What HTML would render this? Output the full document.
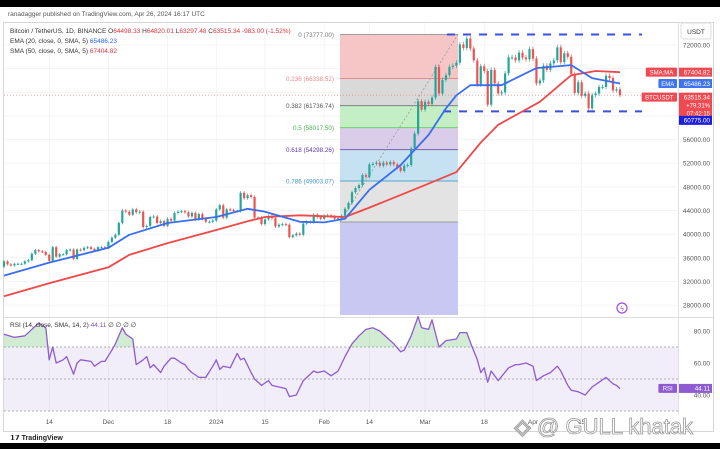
<!DOCTYPE html>
<html><head><meta charset="utf-8"><style>
html,body{margin:0;padding:0;background:#000;}
svg{display:block;font-family:"Liberation Sans",sans-serif;}
</style></head><body>
<svg id="c" width="720" height="449" viewBox="0 0 720 449">
<rect x="0" y="7" width="720" height="436" fill="#ffffff"/>
<text x="8" y="16" font-size="6.5" fill="#555">ranadagger published on TradingView.com, Apr 26, 2024 16:17 UTC</text>
<rect x="3.5" y="22.5" width="710" height="409" fill="none" stroke="#d6d6d6"/>
<line x1="678.5" y1="22" x2="678.5" y2="414" stroke="#e0e0e0"/>
<g id="grid"></g>
<g id="fib"></g>
<g id="candles"></g>
<g id="mas"></g>
<g id="rsi"></g>
<g id="axis"></g>
<g id="legend">
<text x="10" y="33" font-size="6.5" fill="#333">Bitcoin / TetherUS, 1D, BINANCE  <tspan fill="#333">O</tspan><tspan fill="#e0333f">64498.33</tspan> H<tspan fill="#e0333f">64820.01</tspan> L<tspan fill="#e0333f">63297.48</tspan> C<tspan fill="#e0333f">63515.34  -983.00 (-1.52%)</tspan></text>
<text x="10" y="43" font-size="6.5" fill="#333">EMA (20, close, 0, SMA, 5) <tspan fill="#2962ff">65486.23</tspan></text>
<text x="10" y="53" font-size="6.5" fill="#333">SMA (50, close, 0, SMA, 5) <tspan fill="#e0333f">67404.82</tspan></text>
<text x="10" y="327" font-size="6.5" fill="#333">RSI (14, close, SMA, 14, 2) <tspan fill="#7e57c2">44.11</tspan>  ∅ ∅ ∅ ∅</text>
</g>
<g><rect x="681" y="23" width="30" height="16" rx="2" fill="#fff" stroke="#ddd"/><text x="696" y="34" font-size="6.5" fill="#333" text-anchor="middle">USDT</text></g>
<g><circle cx="622" cy="308" r="5" fill="none" stroke="#9c4fd6" stroke-width="1.2"/><text x="622" y="311" font-size="7" fill="#9c4fd6" text-anchor="middle">ϟ</text></g>
<text x="10" y="440" font-size="7" fill="#222" font-weight="bold">𝟭𝟳 TradingView</text>
<text x="514" y="434" font-size="22" fill="#fff" stroke="#9a9a9a" stroke-width="0.8">◈ @ GULL khatak</text>
<rect x="0" y="443" width="720" height="6" fill="#000"/>
<rect x="0" y="0" width="720" height="7" fill="#000"/>
</svg>
<script>
const closes=[35400,34900,34700,35000,35000,35000,35400,35600,36700,37300,37100,37000,36500,35500,37800,36200,36600,36600,37300,37400,35800,37400,37300,37700,37800,37500,37200,37800,37800,37700,
38700,39400,39900,41900,44000,43800,43300,44200,43700,43800,41200,41400,42900,43000,41900,42200,41400,42600,42300,43600,43800,43900,43700,43000,43600,42500,43400,42600,42100,42100,42300,
44200,44900,42800,44200,44100,43900,43900,47000,46100,46600,46300,42800,42800,41700,42500,43100,42700,41300,41600,41700,41600,39500,39800,40100,39900,41800,42100,42000,43300,42900,42600,
43100,43200,43000,42600,42700,43100,44300,45300,47100,47800,48300,50000,49700,51800,51900,52100,51600,52100,51800,52200,51800,51300,50700,51600,51700,54500,57000,62500,61100,
62400,62000,63100,68300,63800,66100,66900,68300,68500,69000,72100,71500,73100,71400,69400,65300,68400,67600,61900,67800,65500,63800,64000,67200,69900,69900,69400,70700,69900,69600,71300,
69700,65500,66000,68500,67800,68900,69400,71600,69100,70600,70000,67100,63900,65700,63400,63800,61300,63500,63800,64900,64900,66800,66400,64300,64500,63515];
const firstOpen=34500;
const emaDays=[0,13,30,36,47,61,70,75,85,92,98,105,114,122,127,130,134,143,153,163,169,177];
const emaVals=[33000,35200,37700,39900,41900,42900,44300,43800,42100,42000,42600,47500,51700,56800,61300,63500,65200,65200,68100,68600,66400,65486];
const smaDays=[0,13,30,36,47,61,70,75,85,98,105,121,130,137,142,154,163,170,177];
const smaVals=[29500,31700,34400,36500,38500,40700,42200,42900,43200,42900,44500,48300,50500,55500,58500,62400,66900,67600,67404];
const rsiDays=[0,3,6,9,10,12,13,14,15,17,18,20,21,22,25,26,28,29,31,32,34,35,37,38,40,41,42,43,45,46,48,49,51,52,53,54,56,58,60,61,62,63,65,67,68,69,71,72,74,76,77,79,81,82,84,86,87,89,90,92,94,96,98,100,102,104,106,108,110,112,114,115,117,119,120,122,123,125,127,130,131,133,134,136,137,138,139,140,142,145,147,148,150,152,153,155,157,159,160,162,163,165,167,169,171,173,175,176,177];
const rsiVals=[78,76,77,83,85,82,62,70,60,62,64,53,60,62,61,58,61,61,68,72,82,78,75,59,62,64,57,59,54,58,63,63,60,59,56,54,51,51,58,62,56,58,57,66,62,63,54,50,46,49,46,45,44,39,40,49,51,55,54,55,52,55,64,72,77,81,82,80,76,72,67,68,77,89,82,81,87,70,74,75,79,79,73,62,54,57,48,55,49,57,59,59,60,58,49,52,54,58,55,46,43,42,40,45,48,51,47,46,44];
const priceTicks=[72000,68000,64000,60000,56000,52000,48000,44000,40000,36000,32000,28000];
const shownTicks=[72000,56000,52000,48000,44000,40000,36000,32000,28000];
const timeLabels=["14","Dec","18","2024","15","Feb","14","Mar","18","Apr","15"];
const timeDays=[13,30,47,61,75,92,105,121,138,152,166];
const fibLevels=[0,0.236,0.382,0.5,0.618,0.786,1];
const fibPrices=[73777.00,66338.52,61736.74,58017.50,54298.26,49003.07,42071.00];
const rsiTicks=[80,60,40];
const resistance=73777, support=60775, lastPrice=63515.34;

const NS="http://www.w3.org/2000/svg";
const X=d=>4+d*3.48;
const Y=p=>45+(72000-p)*0.005912;
const R=v=>331+(80-v)*1.6;
function mk(tag,attrs,parent){const e=document.createElementNS(NS,tag);for(const k in attrs)e.setAttribute(k,attrs[k]);parent.appendChild(e);return e;}
const g=id=>document.getElementById(id);

// grid
const grid=g('grid');
priceTicks.forEach(p=>{const l=mk('line',{x1:4,x2:678,y1:Y(p),y2:Y(p),stroke:'#f1f1f4','stroke-width':0.8},grid);

});
timeDays.forEach(d=>{const l=mk('line',{x1:X(d),x2:X(d),y1:23,y2:414,stroke:'#f1f1f4','stroke-width':0.8},grid);

});

// fib
const fib=g('fib');
const fx1=340,fx2=458;
const bandCols=['#f6c6c6','#d9d9d9','#c4efc4','#d9cdea','#c6e2f2','#e3e3e3'];
const lineCols=['#9e9e9e','#e88a8a','#808080','#6fce6f','#7a5fb0','#56a8c9','#9e9e9e'];
const labCols=['#777','#e88a8a','#555','#4caf50','#5e35b1','#3f9ac0','#777'];
for(let i=0;i<fibLevels.length-1;i++){
 const r=mk('rect',{x:fx1,y:Y(fibPrices[i]),width:fx2-fx1,height:Y(fibPrices[i+1])-Y(fibPrices[i]),fill:bandCols[i]},fib);
 
 
}
const low=mk('rect',{x:fx1,y:Y(fibPrices[6]),width:fx2-fx1,height:315-Y(fibPrices[6]),fill:'#c8c8f2'},fib);


fibLevels.forEach((lv,i)=>{
 const l=mk('line',{x1:fx1,x2:fx2,y1:Y(fibPrices[i]),y2:Y(fibPrices[i]),stroke:lineCols[i],'stroke-width':1},fib);
 
 
 if(i<6){const t=mk('text',{x:334,y:Y(fibPrices[i])+2.5,'font-size':6.3,fill:labCols[i],'text-anchor':'end'},fib);
 t.textContent=lv+' ('+fibPrices[i].toFixed(2)+')';
 
 }
});
const tl=mk('line',{x1:fx1,y1:Y(fibPrices[6]),x2:fx2,y2:Y(fibPrices[0]),stroke:'#999','stroke-dasharray':'2,2','stroke-width':0.8},fib);



// candles
const cg=g('candles');
const pl=mk('line',{x1:4,x2:678,y1:Y(lastPrice),y2:Y(lastPrice),stroke:'#f08080','stroke-dasharray':'1,2','stroke-width':0.7},cg);


closes.forEach((c,i)=>{
 const o=i?closes[i-1]:firstOpen;const up=c>=o;const col=up?'#26a69a':'#ef5350';
 const hi=Math.max(o,c)*1.006,lo=Math.min(o,c)*0.994;
 const w=mk('line',{x1:X(i),x2:X(i),y1:Y(hi),y2:Y(lo),stroke:col,'stroke-width':0.7},cg);
 
 
 const top=Y(Math.max(o,c)),h=Math.max(1,Y(Math.min(o,c))-top);
 const b=mk('rect',{x:X(i)-1.1,y:top,width:2.2,height:h,fill:col},cg);
 
 
});
// dashed levels
const r1=mk('line',{x1:447,x2:642,y1:Y(resistance),y2:Y(resistance),stroke:'#3d4ee0','stroke-width':2,'stroke-dasharray':'8,8'},cg);


const s1=mk('line',{x1:443,x2:642,y1:Y(support),y2:Y(support),stroke:'#3d4ee0','stroke-width':2,'stroke-dasharray':'8,8'},cg);



// MAs
const mg=g('mas');
function path(days,vals,fy){return days.map((d,i)=>(i?'L':'M')+X(d).toFixed(1)+','+fy(vals[i]).toFixed(1)).join(' ');}
const sp=mk('path',{d:path(smaDays,smaVals,Y),fill:'none',stroke:'#f04848','stroke-width':1.8,'stroke-linejoin':'round'},mg);


const ep=mk('path',{d:path(emaDays,emaVals,Y),fill:'none',stroke:'#3a6df0','stroke-width':1.8,'stroke-linejoin':'round'},mg);



// RSI pane
const rg=g('rsi');
const sep=mk('line',{x1:4,x2:713,y1:317.5,y2:317.5,stroke:'#ddd'},rg);


const band=mk('rect',{x:4,y:R(70),width:674,height:R(30)-R(70),fill:'#7e57c2','fill-opacity':0.1},rg);


[70,50,30].forEach(v=>{const l=mk('line',{x1:4,x2:678,y1:R(v),y2:R(v),stroke:'#999','stroke-dasharray':'2,2','stroke-width':0.7},rg);

});
const clip=mk('clipPath',{id:'ob'},rg);mk('rect',{x:0,y:300,width:720,height:R(70)-300},clip);
const area=mk('path',{d:path(rsiDays,rsiVals,R)+' L'+X(rsiDays[rsiDays.length-1])+','+R(70)+' L'+X(0)+','+R(70)+' Z',fill:'#4caf50','fill-opacity':0.25,'clip-path':'url(#ob)'},rg);


const rl=mk('path',{d:path(rsiDays,rsiVals,R),fill:'none',stroke:'#8e5bd0','stroke-width':1.3,'stroke-linejoin':'round'},rg);



// axis labels
const ag=g('axis');
shownTicks.forEach(p=>{const t=mk('text',{x:710,y:Y(p)+2.5,'font-size':6.5,fill:'#555','text-anchor':'end'},ag);t.textContent=p.toFixed(2);

});
rsiTicks.forEach(v=>{const t=mk('text',{x:710,y:R(v)+2.5,'font-size':6.5,fill:'#555','text-anchor':'end'},ag);t.textContent=v.toFixed(2);

});
timeLabels.forEach((s,i)=>{const t=mk('text',{x:X(timeDays[i]),y:424,'font-size':6.5,fill:'#555','text-anchor':'middle'},ag);t.textContent=s;

});
function tag(label,val,y,col,h,name,extra){
 const gg=mk('g',{},ag);
 
 
 if(label){const w=label.length*4.2+6;mk('rect',{x:677-w,y:y-4.5,width:w,height:9,fill:col,rx:1},gg);
 const a=mk('text',{x:677-w/2,y:y+2.3,'font-size':6,fill:'#fff','text-anchor':'middle'},gg);a.textContent=label;}
 mk('rect',{x:679,y:y-4.5,width:33,height:h,fill:col},gg);
 const b=mk('text',{x:710,y:y+2.3,'font-size':6.3,fill:'#fff','text-anchor':'end'},gg);b.textContent=val;
 (extra||[]).forEach((s,k)=>{const e=mk('text',{x:710,y:y+2.3+8*(k+1),'font-size':6,fill:'#fff','text-anchor':'end'},gg);e.textContent=s;});
}
tag('SMA:MA','67404.82',Y(67404.82),'#ef4a52',9,'sma-price-tag');
tag('EMA','65486.23',Y(65486.23),'#3f74f0',9,'ema-price-tag');
tag('BTCUSDT','63515.34',Y(lastPrice)+2,'#ef4a52',24,'last-price-tag',['+79.31%','07:42:15']);
tag('','60775.00',Y(support)+9,'#1d1ddc',9,'support-price-tag');
tag('RSI','44.11',R(44.11),'#8e5bd0',9,'rsi-value-tag');
</script>
</body></html>
